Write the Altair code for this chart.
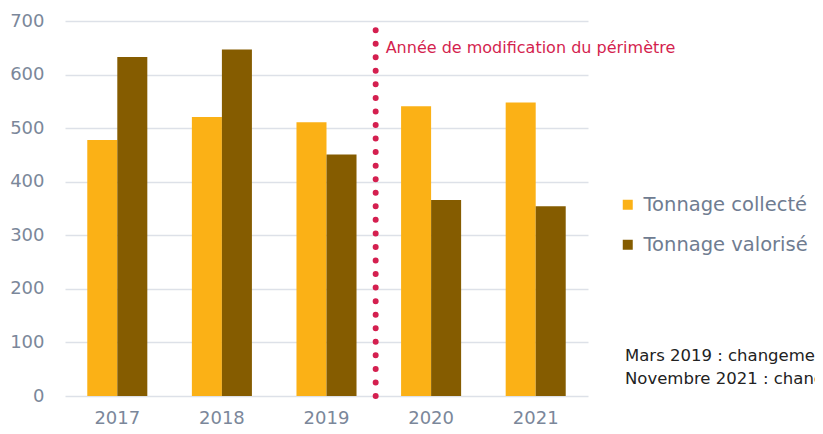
import altair as alt
import pandas as pd

years = ["2017", "2018", "2019", "2020", "2021"]
collecte = [478, 521, 511, 541, 548]
valorise = [633, 647, 451, 366, 354]
series = ["Tonnage collecté", "Tonnage valorisé"]
colors = ["#FBB116", "#855C00"]
y_ticks = [0, 100, 200, 300, 400, 500, 600, 700]
divider_pos = [2.97]          # boundary between 2019 and 2020 (in category units)
divider_range = [0, 688]
annotation = ["Année de modification du périmètre"]
notes = ["Mars 2019 : changement de périmètre",
         "Novembre 2021 : changement de périmètre"]

RED = "#D41F4F"
AXIS_GREY = "#7B879A"
GRID = "#DDE1E8"
FONT = "DejaVu Sans"

rows = []
for i, yr in enumerate(years):
    rows.append({"year": yr, "serie": series[0], "value": collecte[i]})
    rows.append({"year": yr, "serie": series[1], "value": valorise[i]})
df = pd.DataFrame(rows)

W, H = 523, 375
yscale = alt.Scale(domain=[0, 700])
yaxis = alt.Axis(title=None, values=y_ticks, ticks=False, domain=False,
                 grid=True, gridColor=GRID, gridWidth=1.5,
                 labelFontSize=18, labelColor=AXIS_GREY,
                 labelPadding=21, labelFont=FONT)

bars = alt.Chart(df).mark_bar().encode(
    x=alt.X("year:N", sort=years,
            scale=alt.Scale(paddingInner=0.426, paddingOuter=0.213),
            axis=alt.Axis(title=None, labelAngle=0, ticks=False, domain=False,
                          grid=False, labelFontSize=18, labelColor=AXIS_GREY,
                          labelPadding=13, labelFont=FONT)),
    xOffset=alt.XOffset("serie:N", sort=series,
                        scale=alt.Scale(paddingInner=0, paddingOuter=0)),
    y=alt.Y("value:Q", scale=yscale, axis=yaxis),
    color=alt.Color("serie:N", scale=alt.Scale(domain=series, range=colors),
                    legend=alt.Legend(title=None, orient="none", legendX=553,
                                      legendY=174, symbolType="square",
                                      symbolSize=100, symbolStrokeWidth=0,
                                      labelFontSize=19.5, labelColor="#6F7C91",
                                      labelFont=FONT, rowPadding=19,
                                      labelOffset=6, labelLimit=400)),
)

div_df = pd.DataFrame({"pos": divider_pos, "low": [divider_range[0]],
                       "high": [divider_range[1]], "label": annotation})

xq = alt.Scale(domain=[0, len(years)])

rule = alt.Chart(div_df).mark_rule(
    color=RED, strokeWidth=6, strokeDash=[0, 13.55], strokeCap="round"
).encode(
    x=alt.X("pos:Q", scale=xq, axis=None),
    y=alt.Y("low:Q", scale=yscale, axis=yaxis),
    y2="high:Q",
)

label = alt.Chart(div_df).mark_text(
    align="left", baseline="middle", dx=10, fontSize=16, color=RED, font=FONT
).encode(
    x=alt.X("pos:Q", scale=xq, axis=None),
    y=alt.value(27),
    text="label:N",
)

notes_df = pd.DataFrame({"txt": ["\n".join(notes)]})
footnote = alt.Chart(notes_df).mark_text(
    align="left", baseline="top", fontSize=16.5, color="#222222", font=FONT,
    lineBreak="\n", lineHeight=23
).encode(
    x=alt.value(560),
    y=alt.value(327),
    text="txt:N",
)

chart = alt.layer(bars, rule, label, footnote).resolve_scale(
    x="independent"
).properties(
    width=W, height=H,
    autosize=alt.AutoSizeParams(type="none"),
    padding={"left": 57, "top": 13, "right": 227, "bottom": 30},
).configure(font=FONT).configure_view(
    strokeWidth=0, stroke="transparent"
).configure_axis(domain=False, ticks=False)

chart.save("out.html", embed_options={"renderer": "svg", "actions": False})
